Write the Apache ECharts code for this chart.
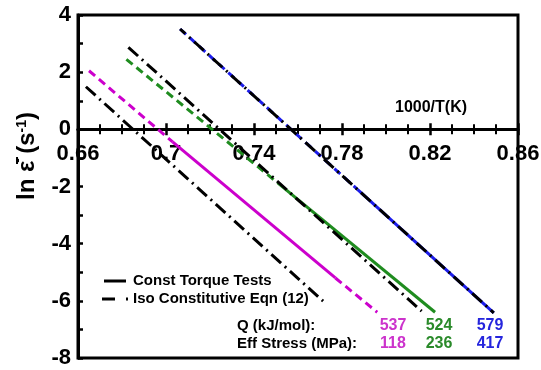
<!DOCTYPE html>
<html>
<head>
<meta charset="utf-8">
<script src="https://cdn.jsdelivr.net/npm/echarts@6/dist/echarts.min.js"></script>
<style>html,body{margin:0;padding:0;background:#fff;}#c{width:541px;height:370px;}</style>
</head>
<body>
<div id="c"></div>
<script>
// ---- data ----
const magentaDashA = [[0.665, 2.05], [0.703, -0.44]];
const magentaSolid = [[0.703, -0.44], [0.777, -5.2]];
const magentaDashB = [[0.777, -5.2], [0.796, -6.4]];
const greenDash = [[0.682, 2.45], [0.752, -1.95]];
const greenSolid = [[0.752, -1.95], [0.8223, -6.4]];
const blueDash = [[0.7064, 3.51], [0.787, -2.1]];
const blueSolid = [[0.787, -2.1], [0.849, -6.42]];
const eqnA = [[0.6636, 1.49], [0.7714, -6.01]];
const eqnB = [[0.6829, 2.87], [0.8162, -6.36]];
const eqnC = [[0.7064, 3.51], [0.849, -6.42]];
const qValues = ['537', '524', '579'];
const stressValues = ['118', '236', '417'];
const legendNames = ['Const Torque Tests', 'Iso Constitutive Eqn (12)'];
const yMin = -8, yMax = 4, xCrossAt = 0;

const MAG = '#CC00CC', GRN = '#1F8C1F', BLU = '#1C1CEB';
const MAGT = '#CC33CC', GRNT = '#2A8A2A', BLUT = '#2525DD';
const FONT = '"Liberation Sans", Arial, sans-serif';

function line(data, color, type, z, extra) {
  return Object.assign({
    type: 'line', data: data, symbol: 'none', silent: true, z: z, color: color,
    lineStyle: { color: color, width: 3, type: type, cap: 'butt' }
  }, extra || {});
}
const dashed = [8, 5];
const dashDot = [13, 5, 2, 5];

const xBase = {
  type: 'value', min: 0.66, max: 0.86, interval: 0.04, position: 'bottom', offset: 0,
  axisLine: { onZero: false, lineStyle: { color: '#000', width: 3 } },
  minorTick: { show: true, splitNumber: 4, length: 5, lineStyle: { color: '#000', width: 2 } },
  splitLine: { show: false }
};

const chart = echarts.init(document.getElementById('c'), null, { renderer: 'canvas' });
const option = {
  animation: false,
  backgroundColor: '#fff',
  grid: { left: 78, right: 23, top: 15, bottom: 12, containLabel: false, outerBoundsMode: 'none',
          show: true, borderColor: '#000', borderWidth: 3, backgroundColor: 'transparent' },
  xAxis: [
    Object.assign({}, xBase, {
      axisTick: { inside: false, length: 6, lineStyle: { color: '#000', width: 2.5 } },
      axisLabel: { color: '#000', fontSize: 22, fontWeight: 'bold', fontFamily: FONT, margin: 14, showMinLabel: true, showMaxLabel: true }
    }),
    Object.assign({}, xBase, {
      axisTick: { inside: true, length: 6, lineStyle: { color: '#000', width: 2.5 } },
      minorTick: { show: true, splitNumber: 4, length: 5, lineStyle: { color: '#000', width: 2 } },
      axisLabel: { show: false }
    })
  ],
  yAxis: {
    type: 'value', min: yMin, max: yMax, interval: 2,
    axisLine: { onZero: false, lineStyle: { color: '#000', width: 3 } },
    axisTick: { inside: true, length: 5, lineStyle: { color: '#000', width: 2.5 } },
    minorTick: { show: true, splitNumber: 2, length: 5, lineStyle: { color: '#000', width: 2.5 } },
    axisLabel: { color: '#000', fontSize: 22, fontWeight: 'bold', fontFamily: FONT, margin: 7 },
    splitLine: { show: false }
  },
  legend: {
    left: 97, top: 268, orient: 'vertical', itemGap: 2, itemWidth: 26, itemHeight: 3,
    selectedMode: false,
    itemStyle: { color: '#000', borderWidth: 0 },
    textStyle: { color: '#000', fontSize: 15, fontWeight: 'bold', fontFamily: FONT, lineHeight: 16 },
    data: [
      { name: legendNames[0], icon: 'path://M0,0H22V3H0Z', itemStyle: { color: '#000', borderWidth: 0 } },
      { name: legendNames[1], icon: 'path://M0,0H13V3H0Z M24,0H26V3H24Z', itemStyle: { color: '#000', borderWidth: 0 } }
    ]
  },
  series: [
    line([], '#000', 'solid', 1, { name: legendNames[0] }),
    line([], '#000', dashDot, 1, { name: legendNames[1] }),
    line(magentaDashA, MAG, dashed, 2),
    line(magentaSolid, MAG, 'solid', 2),
    line(magentaDashB, MAG, dashed, 2),
    line(greenDash, GRN, dashed, 2),
    line(greenSolid, GRN, 'solid', 2),
    line(blueDash, BLU, dashed, 2),
    line(blueSolid, BLU, 'solid', 2),
    line(eqnA, '#000', dashDot, 3),
    line(eqnB, '#000', dashDot, 3),
    line(eqnC, '#000', dashDot, 3, { lineStyle: { color: '#000', width: 3, type: dashDot, dashOffset: 6 } })
  ],
  graphic: [
    { type: 'text', x: 395, y: 108, style: { text: '1000/T(K)', font: 'bold 16px ' + FONT, fill: '#000', verticalAlign: 'middle', align: 'left' } },
    { type: 'text', x: 27, y: 156, rotation: Math.PI / 2,
      style: { text: 'ln \u03B5\u0304\u0307 (s{sup|-1})', font: 'bold 24px ' + FONT, fill: '#000', align: 'center', verticalAlign: 'middle',
        rich: { sup: { font: 'bold 14px ' + FONT, fill: '#000', verticalAlign: 'top' } } } },
    { type: 'text', x: 237, y: 326, style: { text: 'Q (kJ/mol):', font: 'bold 15px ' + FONT, fill: '#000', verticalAlign: 'middle' } },
    { type: 'text', x: 237, y: 344, style: { text: 'Eff Stress (MPa):', font: 'bold 15px ' + FONT, fill: '#000', verticalAlign: 'middle' } },
    { type: 'text', x: 393, y: 326, style: { text: qValues[0], font: 'bold 16px ' + FONT, fill: MAGT, align: 'center', verticalAlign: 'middle' } },
    { type: 'text', x: 439, y: 326, style: { text: qValues[1], font: 'bold 16px ' + FONT, fill: GRNT, align: 'center', verticalAlign: 'middle' } },
    { type: 'text', x: 490, y: 326, style: { text: qValues[2], font: 'bold 16px ' + FONT, fill: BLUT, align: 'center', verticalAlign: 'middle' } },
    { type: 'text', x: 393, y: 344, style: { text: stressValues[0], font: 'bold 16px ' + FONT, fill: MAGT, align: 'center', verticalAlign: 'middle' } },
    { type: 'text', x: 439, y: 344, style: { text: stressValues[1], font: 'bold 16px ' + FONT, fill: GRNT, align: 'center', verticalAlign: 'middle' } },
    { type: 'text', x: 490, y: 344, style: { text: stressValues[2], font: 'bold 16px ' + FONT, fill: BLUT, align: 'center', verticalAlign: 'middle' } }
  ]
};
chart.setOption(option);
// Move the x axis (line, ticks, labels) up to where y = 0, using the library's own y scale.
const pZero = chart.convertToPixel({ yAxisIndex: 0 }, xCrossAt);
const pBottom = chart.convertToPixel({ yAxisIndex: 0 }, yMin);
const off = pZero - pBottom;
chart.setOption({ xAxis: [{ offset: off }, { offset: off }] });
</script>
</body>
</html>
